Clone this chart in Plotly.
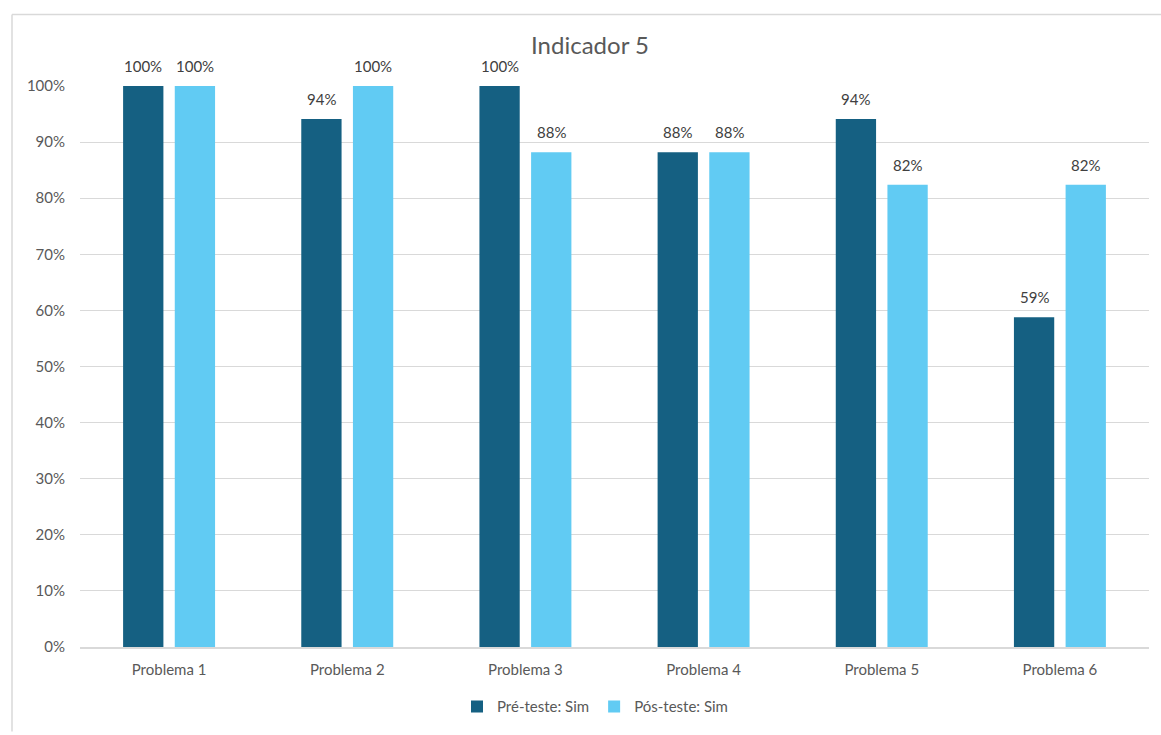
import plotly.graph_objects as go

categories = ["Problema 1", "Problema 2", "Problema 3", "Problema 4", "Problema 5", "Problema 6"]
pre_teste = [1.0, 0.941, 1.0, 0.882, 0.941, 0.588]
pos_teste = [1.0, 1.0, 0.882, 0.882, 0.824, 0.824]
series_names = ["Pré-teste: Sim", "Pós-teste: Sim"]
y_ticks = [0, 0.1, 0.2, 0.3, 0.4, 0.5, 0.6, 0.7, 0.8, 0.9, 1.0]

W, H = 1161, 735
ML, MR, MT, MB = 80, 12, 86, 85
BARGAP = 0.42
FONT = "Lato"
DARK = "#156082"
LIGHT = "#61CBF3"

fig = go.Figure()
fig.add_trace(go.Bar(x=categories, y=pre_teste, name=series_names[0], marker_color=DARK,
                     marker_line_width=0))
fig.add_trace(go.Bar(x=categories, y=pos_teste, name=series_names[1], marker_color=LIGHT,
                     marker_line_width=0))

plot_w = W - ML - MR
cat_w = plot_w / len(categories)
slot = cat_w * (1 - BARGAP) / 2
offsets = [-slot / 2, slot / 2]

for vals, off in zip([pre_teste, pos_teste], offsets):
    for c, v in zip(categories, vals):
        fig.add_annotation(x=c, y=v, text=f"{round(v*100)}%", showarrow=False,
                           xshift=off, yshift=9, yanchor="bottom",
                           font=dict(family=FONT, size=15, color="#404040"))

# chart border lines (light gray) from the screenshot
fig.add_shape(type="line", xref="paper", yref="paper",
              x0=(12 - ML) / plot_w, x1=(W - ML) / plot_w,
              y0=(H - MB - 14) / (H - MT - MB), y1=(H - MB - 14) / (H - MT - MB),
              line=dict(color="#d9d9d9", width=1.5))
fig.add_shape(type="line", xref="paper", yref="paper",
              x0=(12 - ML) / plot_w, x1=(12 - ML) / plot_w,
              y0=(H - MB - 14) / (H - MT - MB), y1=(H - MB - H) / (H - MT - MB),
              line=dict(color="#d9d9d9", width=1.5))

fig.update_layout(
    width=W, height=H,
    margin=dict(l=ML, r=MR, t=MT, b=MB),
    paper_bgcolor="white", plot_bgcolor="white",
    barmode="group", bargap=BARGAP, bargroupgap=0.22,
    font=dict(family=FONT, color="#595959", size=15),
    title=dict(text="Indicador 5", x=590 / W, xanchor="center", y=1 - 46 / H, yanchor="middle",
               font=dict(family=FONT, size=24, color="#595959")),
    xaxis=dict(showline=True, linecolor="#d9d9d9", linewidth=1.5, ticks="",
               ticklabelstandoff=8,
               tickfont=dict(size=15, color="#595959"), showgrid=False),
    yaxis=dict(range=[0, 1.0], tickvals=y_ticks, tickformat=".0%", showgrid=True,
               gridcolor="#d9d9d9", gridwidth=1, zeroline=False, showline=False,
               ticklabelstandoff=14, tickfont=dict(size=15, color="#595959")),
    legend=dict(orientation="h", x=(595 - ML) / plot_w, xanchor="center",
                y=(H - MB - 710) / (H - MT - MB), yanchor="middle",
                font=dict(size=15, color="#595959"), itemwidth=30),
    showlegend=True,
)

fig.write_html("out.html")
